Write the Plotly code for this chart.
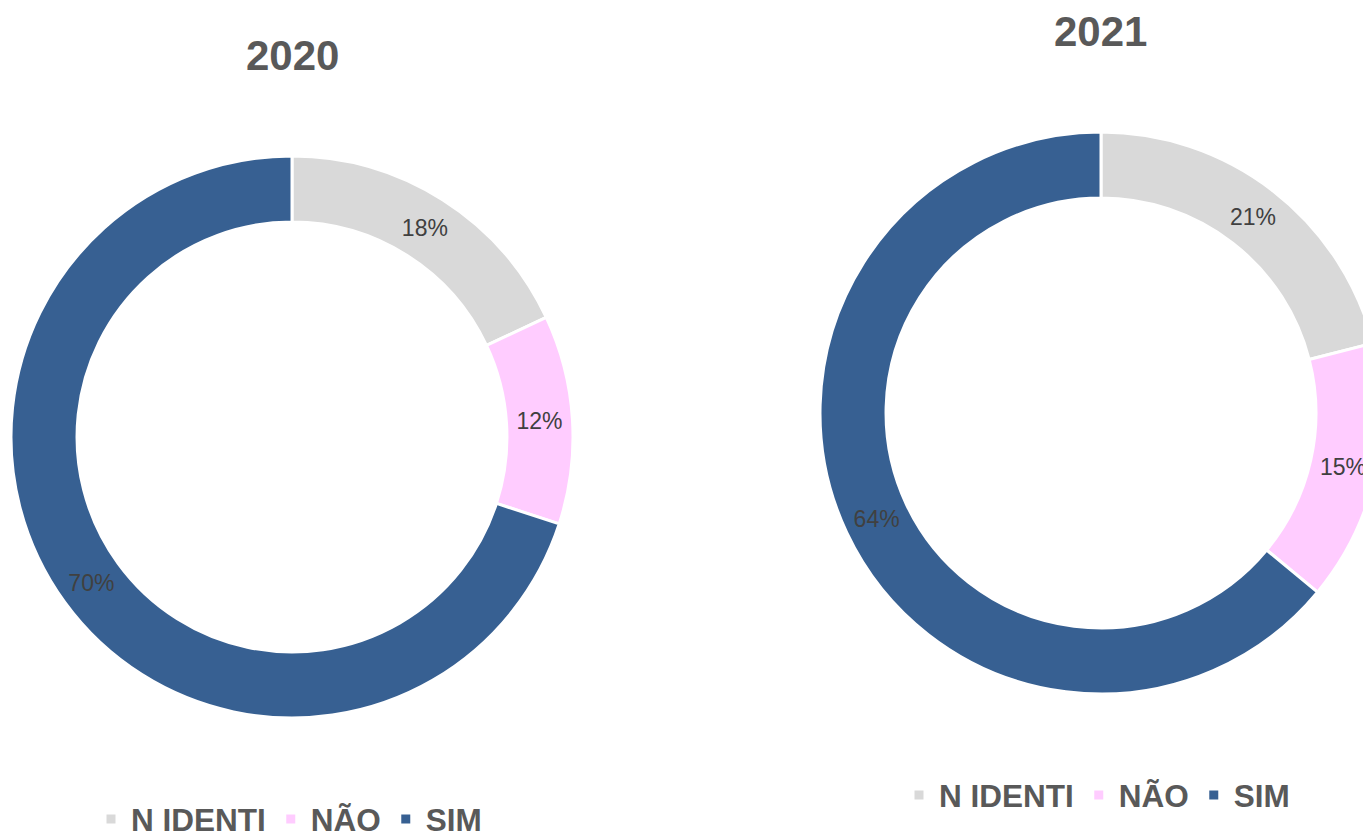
import plotly.graph_objects as go

labels = ["N IDENTI", "NÃO", "SIM"]
values_2020 = [18, 12, 70]
values_2021 = [21, 15, 64]
titles = ["2020", "2021"]
colors = ["#D9D9D9", "#FFCCFF", "#376092"]

# second donut gets its own legend; labels made distinct (zero-width space) so
# plotly does not merge its legend items with the first donut's
labels_2021 = [l + "\u200b" for l in labels]

W, H = 1400, 832
FONT = "Arial, Liberation Sans, sans-serif"

def px_x(v):
    return v / W

def px_y(v):
    return 1 - v / H

fig = go.Figure()

common = dict(
    hole=0.765,
    sort=False,
    direction="clockwise",
    rotation=0,
    textinfo="percent",
    textposition="inside",
    insidetextorientation="horizontal",
    textfont=dict(family=FONT, size=23, color="#404040"),
    marker=dict(colors=colors, line=dict(color="white", width=3)),
    hoverinfo="label+percent",
)

fig.add_trace(go.Pie(
    labels=labels, values=values_2020, name=titles[0],
    domain=dict(x=[px_x(11), px_x(573)], y=[px_y(718), px_y(156)]),
    legend="legend", **common))
fig.add_trace(go.Pie(
    labels=labels_2021, values=values_2021, name=titles[1],
    domain=dict(x=[px_x(820), px_x(1382)], y=[px_y(694), px_y(132)]),
    legend="legend2", **common))

legend_font = dict(family=FONT, size=31.5, color="#595959", weight="bold")
fig.update_layout(
    width=W, height=H,
    margin=dict(l=0, r=0, t=0, b=0, autoexpand=False),
    paper_bgcolor="white", plot_bgcolor="white",
    legend=dict(orientation="h", x=px_x(91), xanchor="left", y=px_y(819), yanchor="middle",
                font=legend_font, bgcolor="rgba(0,0,0,0)"),
    legend2=dict(orientation="h", x=px_x(899), xanchor="left", y=px_y(795), yanchor="middle",
                 font=legend_font, bgcolor="rgba(0,0,0,0)"),
    annotations=[
        dict(text=titles[0], x=px_x(292), y=px_y(55), xref="paper", yref="paper",
             xanchor="center", yanchor="middle", showarrow=False,
             font=dict(family=FONT, size=42, color="#595959", weight="bold")),
        dict(text=titles[1], x=px_x(1100), y=px_y(32), xref="paper", yref="paper",
             xanchor="center", yanchor="middle", showarrow=False,
             font=dict(family=FONT, size=42, color="#595959", weight="bold")),
    ],
)

fig.write_html(
    "out.html",
    config={"displayModeBar": False},
    post_script="document.documentElement.style.overflow='hidden';document.body.style.overflow='hidden';document.body.style.margin='0';",
)
